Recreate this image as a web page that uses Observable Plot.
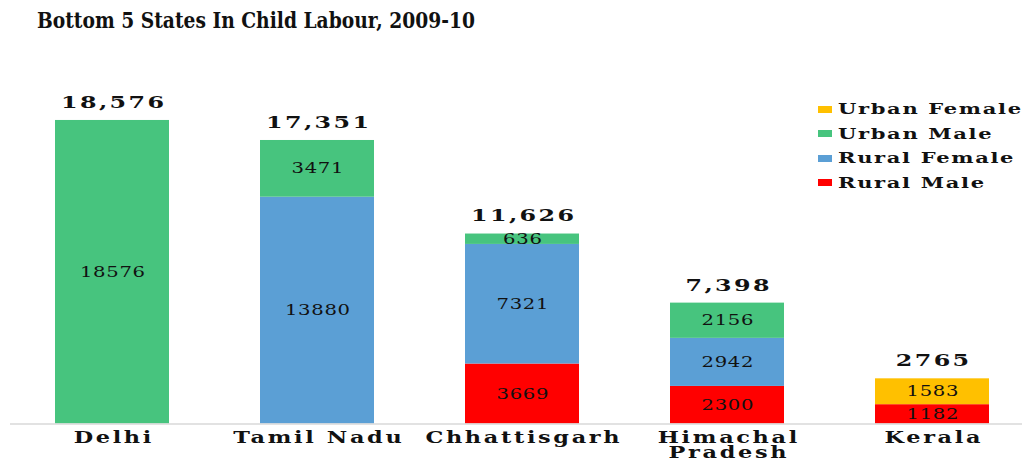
<!DOCTYPE html>
<html>
<head>
<meta charset="utf-8">
<script src="https://cdn.jsdelivr.net/npm/d3@7"></script>
<script src="https://cdn.jsdelivr.net/npm/@observablehq/plot@0.6"></script>
<style>
  html, body { margin: 0; padding: 0; background: #fff; }
  #wrap { position: relative; width: 1022px; height: 459px; overflow: hidden; font-family: "DejaVu Serif", serif; }
  #title { position: absolute; left: 37px; top: 7px; font-size: 22.5px; font-weight: bold; color: #111; white-space: nowrap; transform: scaleX(0.83); transform-origin: 0 0; }
  #chart { position: absolute; left: 0; top: 48px; }
  #legend { position: absolute; left: 818px; top: 97px; }
  .item { display: flex; align-items: center; height: 24.5px; font-size: 15px; font-weight: bold; color: #111; white-space: nowrap; }
  .sw { width: 14px; height: 7px; margin-right: 6px; flex: none; }
  .lt { display: inline-block; letter-spacing: 1.2px; transform: scaleX(1.4); transform-origin: 0 50%; }
</style>
</head>
<body>
<div id="wrap">
  <div id="title"></div>
  <div id="chart"></div>
  <div id="legend"></div>
</div>
<script>
const titleText = "Bottom 5 States In Child Labour, 2009-10";
const states = ["Delhi", "Tamil Nadu", "Chhattisgarh", "Himachal Pradesh", "Kerala"];
const stateLabels = ["Delhi", "Tamil Nadu", "Chhattisgarh", "Himachal\nPradesh", "Kerala"];
const series = ["Rural Male", "Rural Female", "Urban Male", "Urban Female"];
const ruralMale   = [0, 0, 3669, 2300, 1182];
const ruralFemale = [0, 13880, 7321, 2942, 0];
const urbanMale   = [18576, 3471, 636, 2156, 0];
const urbanFemale = [0, 0, 0, 0, 1583];
const totals = [18576, 17351, 11626, 7398, 2765];
const totalLabels = ["18,576", "17,351", "11,626", "7,398", "2765"];
const colors = ["#FF0000", "#5B9FD5", "#47C47E", "#FFC000"];
const legendOrder = ["Urban Female", "Urban Male", "Rural Female", "Rural Male"];

document.getElementById("title").textContent = titleText;

const seriesValues = [ruralMale, ruralFemale, urbanMale, urbanFemale];
const rows = [];
series.forEach((s, si) => {
  states.forEach((st, i) => {
    const v = seriesValues[si][i];
    if (v > 0) rows.push({state: st, series: s, value: v});
  });
});
const totalRows = states.map((st, i) => ({state: st, total: totals[i], label: totalLabels[i]}));

const plot = Plot.plot({
  width: 1022,
  height: 411,
  marginLeft: 10,
  marginRight: 0,
  marginTop: 48.7,
  marginBottom: 35.5,
  style: {fontFamily: "DejaVu Serif", background: "transparent", color: "#111"},
  x: {domain: states, range: [9.5, 1034.5], paddingInner: 0.444, paddingOuter: 0.222, label: null},
  y: {domain: [0, 20000], axis: null},
  color: {domain: series, range: colors},
  marks: [
    Plot.barY(rows, Plot.stackY({x: "state", y: "value", fill: "series", order: null})),
    Plot.text(rows, Plot.stackY({x: "state", y: "value", text: d => String(d.value), order: null, fontSize: 14, fill: "#111"})),
    Plot.text(totalRows, {x: "state", y: "total", text: "label", dy: -18, fontSize: 17, fontWeight: "bold", fill: "#111"}),
    Plot.ruleY([0], {stroke: "#d9d9d9", strokeWidth: 1.5}),
    Plot.axisX({tickSize: 0, tickPadding: 8, fontSize: 16, fontWeight: "bold", tickFormat: d => stateLabels[states.indexOf(d)], lineHeight: 0.95})
  ]
});
document.getElementById("chart").appendChild(plot);

// horizontally stretched serif look of the original
function stretch(sel, sx, ls) {
  sel.each(function() {
    this.setAttribute("letter-spacing", ls);
    const t = this.getAttribute("transform");
    if (t) this.setAttribute("transform", t + ` scale(${sx},1) translate(${ls / 2},0)`);
    else {
      const x = +this.getAttribute("x") || 0, y = +this.getAttribute("y") || 0;
      this.setAttribute("transform", `translate(${x},${y}) scale(${sx},1) translate(${ls / 2},0)`);
      this.removeAttribute("x"); this.removeAttribute("y");
    }
  });
}
const svg = d3.select(plot);
const textGroups = svg.selectAll("g[aria-label='text']").nodes();
if (textGroups[0]) stretch(d3.select(textGroups[0]).selectAll("text"), 1.4, 0.5);
if (textGroups[1]) stretch(d3.select(textGroups[1]).selectAll("text"), 1.4, 1.7);
stretch(svg.selectAll("g[aria-label='x-axis tick label'] text"), 1.4, 1.9);

const legend = document.getElementById("legend");
legendOrder.forEach(name => {
  const item = document.createElement("div");
  item.className = "item";
  const sw = document.createElement("span");
  sw.className = "sw";
  sw.style.background = colors[series.indexOf(name)];
  item.appendChild(sw);
  const lt = document.createElement("span");
  lt.className = "lt";
  lt.textContent = name;
  item.appendChild(lt);
  legend.appendChild(item);
});
</script>
</body>
</html>
